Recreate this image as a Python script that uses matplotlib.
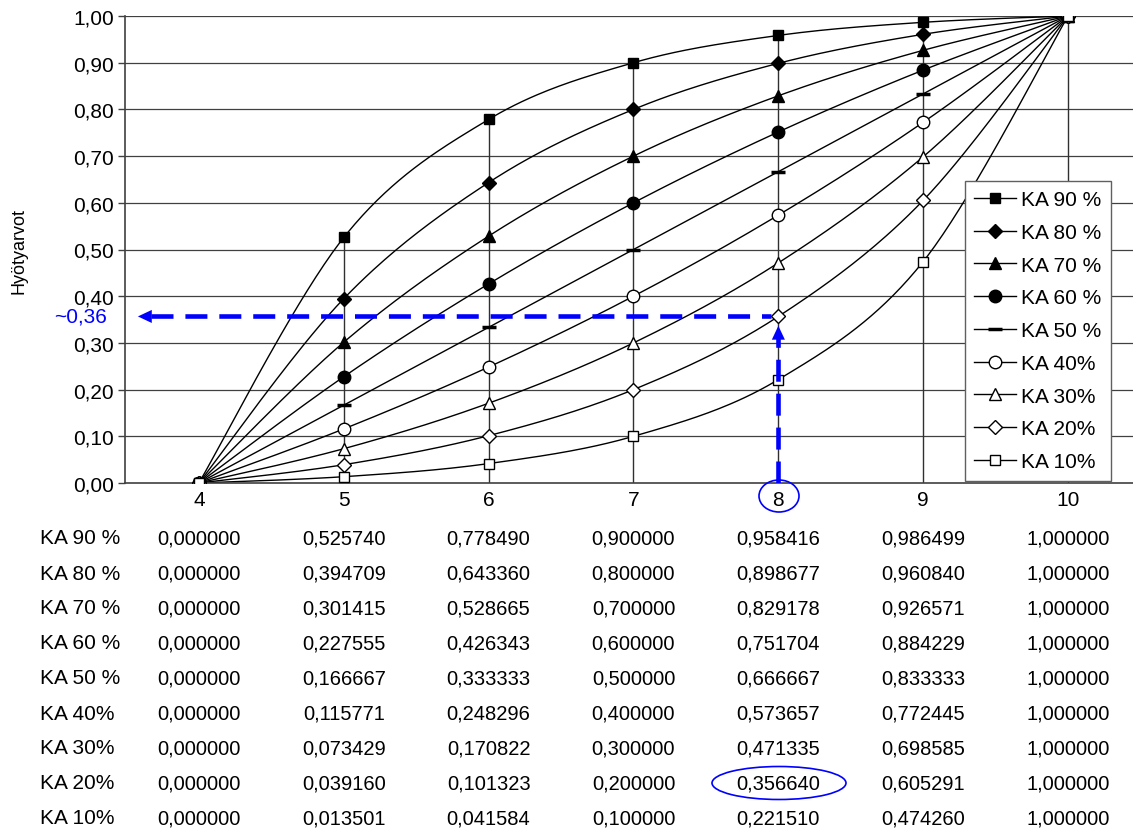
import numpy as np
import matplotlib
matplotlib.use("Agg")
import matplotlib.pyplot as plt
from matplotlib.patches import Ellipse
from matplotlib.transforms import blended_transform_factory

plt.rcParams['font.family'] = ['Liberation Sans', 'DejaVu Sans']

# Scale points (x) and utility values for each risk attitude series
x_values = [4, 5, 6, 7, 8, 9, 10]
series_labels = ["KA 90 %", "KA 80 %", "KA 70 %", "KA 60 %", "KA 50 %",
                 "KA 40%", "KA 30%", "KA 20%", "KA 10%"]
ka90 = [0.000000, 0.525740, 0.778490, 0.900000, 0.958416, 0.986499, 1.000000]
ka80 = [0.000000, 0.394709, 0.643360, 0.800000, 0.898677, 0.960840, 1.000000]
ka70 = [0.000000, 0.301415, 0.528665, 0.700000, 0.829178, 0.926571, 1.000000]
ka60 = [0.000000, 0.227555, 0.426343, 0.600000, 0.751704, 0.884229, 1.000000]
ka50 = [0.000000, 0.166667, 0.333333, 0.500000, 0.666667, 0.833333, 1.000000]
ka40 = [0.000000, 0.115771, 0.248296, 0.400000, 0.573657, 0.772445, 1.000000]
ka30 = [0.000000, 0.073429, 0.170822, 0.300000, 0.471335, 0.698585, 1.000000]
ka20 = [0.000000, 0.039160, 0.101323, 0.200000, 0.356640, 0.605291, 1.000000]
ka10 = [0.000000, 0.013501, 0.041584, 0.100000, 0.221510, 0.474260, 1.000000]
series_values = [ka90, ka80, ka70, ka60, ka50, ka40, ka30, ka20, ka10]

# Highlighted reading: series KA 20% at x = 8
read_x = 8
read_y = ka20[x_values.index(read_x)]
read_label = "~0,36"

# Marker style per series: (marker, face colour, size)
styles = [("s", "black", 6.5), ("D", "black", 7), ("^", "black", 8.5),
          ("o", "black", 9), ("_", "black", 10), ("o", "white", 9),
          ("^", "white", 8.5), ("D", "white", 7), ("s", "white", 6.5)]

FS = 15        # tick labels, legend, row labels
FS_NUM = 14.5  # table numbers


def smooth(xs, ys, n=40):
    """Bezier smoothing through the points (Catmull-Rom style control points)."""
    pts = np.column_stack([xs, ys]).astype(float)
    out = [pts[0]]
    for i in range(len(pts) - 1):
        p0 = pts[i - 1] if i > 0 else pts[i]
        p1 = pts[i]
        p2 = pts[i + 1]
        p3 = pts[i + 2] if i + 2 < len(pts) else pts[i + 1]
        c1 = p1 + (p2 - p0) / 6.0
        c2 = p2 - (p3 - p1) / 6.0
        t = np.linspace(0, 1, n)[1:, None]
        seg = ((1 - t) ** 3) * p1 + 3 * ((1 - t) ** 2) * t * c1 \
            + 3 * (1 - t) * t ** 2 * c2 + t ** 3 * p2
        out.extend(seg)
    out = np.array(out)
    return out[:, 0], out[:, 1]


fig = plt.figure(figsize=(11.33, 8.29), dpi=100)
W, H = 1133, 829
ax = fig.add_axes([125 / W, 345 / H, 1008 / W, 467 / H])
ax.set_xlim(3.49, 10.448)
ax.set_ylim(0, 1.0)

# Horizontal gridlines
for gy in np.arange(0.1, 1.01, 0.1):
    ax.axhline(gy, color="#404040", lw=0.9, zorder=1)

# Drop lines from the highest series to the axis
tops = np.max(np.array(series_values), axis=0)
for xv, top in zip(x_values, tops):
    if top > 0:
        ax.plot([xv, xv], [0, top], color="#303030", lw=1.0, zorder=1)

for vals, (m, fc, ms), lab in zip(series_values, styles, series_labels):
    sx, sy = smooth(x_values, vals)
    ax.plot(sx, sy, color="black", lw=1.0, zorder=2)
    mew = 2.5 if m == "_" else 1.0
    ax.plot(x_values, vals, linestyle="none", marker=m, markersize=ms,
            markerfacecolor=fc, markeredgecolor="black", markeredgewidth=mew,
            zorder=3)
    ax.plot([], [], color="black", lw=1.0, marker=m, markersize=ms,
            markerfacecolor=fc, markeredgecolor="black", markeredgewidth=mew,
            label=lab)

# Spines and ticks
for side in ("top", "right"):
    ax.spines[side].set_visible(False)
for side in ("left", "bottom"):
    ax.spines[side].set_color("#404040")
    ax.spines[side].set_linewidth(1.2)

ax.set_yticks(np.arange(0, 1.01, 0.1))
ax.set_yticklabels([f"{v:.2f}".replace(".", ",") for v in np.arange(0, 1.01, 0.1)],
                   fontsize=FS)
ax.tick_params(axis="y", length=5, width=1, color="#404040", pad=3)
ax.set_xticks(x_values)
ax.set_xticklabels([str(v) for v in x_values], fontsize=FS)
ax.tick_params(axis="x", length=0, pad=5)
ax.set_ylabel("Hyötyarvot", fontsize=13, labelpad=33)

leg = ax.legend(loc="upper left", bbox_to_anchor=(0.833, 0.647), borderaxespad=0,
                fontsize=FS, frameon=True, fancybox=False, framealpha=1,
                edgecolor="#606060", labelspacing=0.66, handlelength=2.0,
                handletextpad=0.25, borderpad=0.45)
leg.get_frame().set_linewidth(1.0)
leg.set_zorder(5)

# Reading guide: dashed blue arrows
blue = "#0000ff"
tip_x = 3.579
ax.plot([tip_x + 0.09, read_x - 0.05], [read_y, read_y], color=blue, lw=3.3,
        linestyle=(0, (4.8, 2.6)), zorder=4, solid_capstyle="butt",
        dash_capstyle="butt")
ax.annotate("", xy=(tip_x, read_y), xytext=(tip_x + 0.1, read_y),
            arrowprops=dict(arrowstyle="-|>,head_length=1.0,head_width=0.47",
                            color=blue, lw=0, mutation_scale=10,
                            shrinkA=0, shrinkB=0),
            annotation_clip=False, zorder=4)
tip_y = read_y - 0.02
ax.plot([read_x, read_x], [0, tip_y - 0.02], color=blue, lw=3.3,
        linestyle=(0, (4.8, 2.6)), zorder=4, dash_capstyle="butt")
ax.annotate("", xy=(read_x, tip_y), xytext=(read_x, tip_y - 0.03),
            arrowprops=dict(arrowstyle="-|>,head_length=1.0,head_width=0.47",
                            color=blue, lw=0, mutation_scale=10,
                            shrinkA=0, shrinkB=0),
            annotation_clip=False, zorder=4)
ax.text(3.366, read_y, read_label, color=blue, fontsize=FS, ha="right",
        va="center", transform=ax.transData, clip_on=False)

# Data table below the chart
trans = blended_transform_factory(ax.transData, fig.transFigure)
row_y0 = 539
row_step = 35
for r, (lab, vals) in enumerate(zip(series_labels, series_values)):
    yy = 1 - (row_y0 + r * row_step) / H
    fig.text(40 / W, yy, lab, fontsize=FS, ha="left", va="center")
    for xv, v in zip(x_values, vals):
        ax.text(xv, yy, f"{v:.6f}".replace(".", ","), fontsize=FS_NUM,
                ha="center", va="center", transform=trans, clip_on=False)

# Highlight ellipses around the x label and the table value
fig.patches.append(Ellipse((779 / W, 1 - 497 / H), 40 / W, 32 / H,
                           transform=fig.transFigure, fill=False,
                           edgecolor=blue, lw=1.2))
row_idx = series_labels.index("KA 20%")
fig.patches.append(Ellipse((779 / W, 1 - (row_y0 + row_idx * row_step) / H),
                           134 / W, 33 / H, transform=fig.transFigure,
                           fill=False, edgecolor=blue, lw=1.2))

fig.savefig("out.png", dpi=100)
